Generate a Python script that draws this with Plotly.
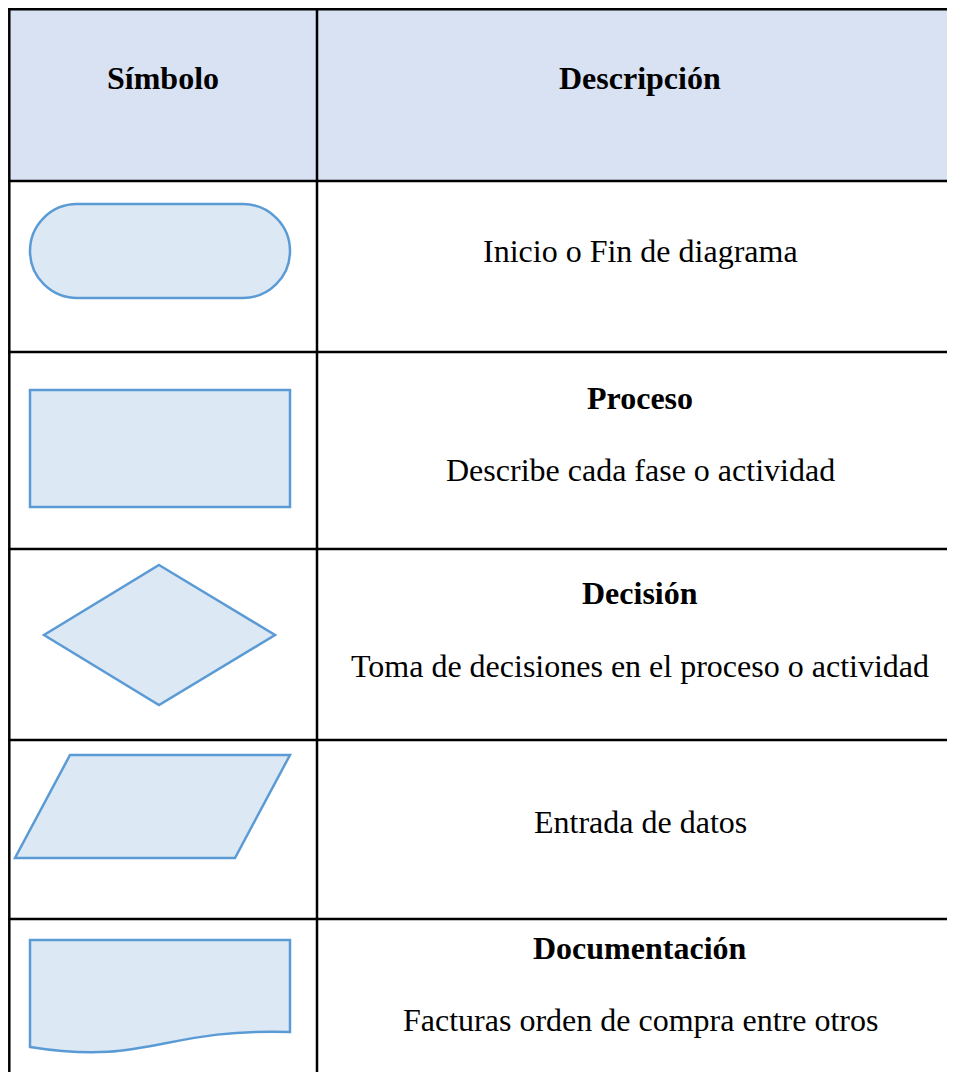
import plotly.graph_objects as go

W, H = 955, 1072
PAGE_MARGIN = 8  # default body margin of the html page

headers = ["Símbolo", "Descripción"]
row_titles = ["", "Proceso", "Decisión", "", "Documentación"]
row_descs = ["Inicio o Fin de diagrama", "Describe cada fase o actividad",
             "Toma de decisiones en el proceso o actividad", "Entrada de datos",
             "Facturas orden de compra entre otros"]

# layout geometry (pixels in the page)
col_x = [9.3, 317, 962]
row_y = [9.3, 181, 352, 549, 740, 919, 1100]

FILL = "#DDE8F5"
STROKE = "#5B9BD5"
HEAD = "#D9E2F3"
FONT = "Liberation Serif"
FS = 32

fig = go.Figure()
shapes = []
annos = []

# header background
shapes.append(dict(type="rect", x0=col_x[0], x1=col_x[2], y0=row_y[0], y1=row_y[1],
                   fillcolor=HEAD, line=dict(width=0), layer="below"))
# grid lines
for y in row_y[:-1]:
    shapes.append(dict(type="line", x0=col_x[0] - 1.2, x1=col_x[2], y0=y, y1=y,
                       line=dict(color="black", width=2.5)))
for x in col_x:
    shapes.append(dict(type="line", x0=x, x1=x, y0=row_y[0] - 1.2, y1=row_y[-1],
                       line=dict(color="black", width=2.5)))

sym = dict(fillcolor=FILL, line=dict(color=STROKE, width=2.5))
# terminator
x0, x1, y0, y1 = 30, 290, 204, 298
r = (y1 - y0) / 2
cy = (y0 + y1) / 2
k = 0.5523 * r
lc, rc = x0 + r, x1 - r
p = (f"M {lc} {y0} L {rc} {y0} C {rc + k} {y0} {x1} {cy - k} {x1} {cy} "
     f"C {x1} {cy + k} {rc + k} {y1} {rc} {y1} L {lc} {y1} "
     f"C {lc - k} {y1} {x0} {cy + k} {x0} {cy} C {x0} {cy - k} {lc - k} {y0} {lc} {y0} Z")
shapes.append(dict(type="path", path=p, **sym))
# process
shapes.append(dict(type="rect", x0=30, x1=290, y0=390, y1=507, **sym))
# decision
shapes.append(dict(type="path", path="M 159 565 L 275 635 L 159 705 L 44 635 Z", **sym))
# data
shapes.append(dict(type="path", path="M 70 755 L 290 755 L 235 858 L 15 858 Z", **sym))
# document
shapes.append(dict(type="path",
                   path="M 30 940 L 290 940 L 290 1032 C 160 1028 150 1066 30 1047 Z", **sym))

cx_left = (col_x[0] + col_x[1]) / 2
cx_right = 640
annos.append(dict(x=cx_left, y=78, text=f"<b>{headers[0]}</b>"))
annos.append(dict(x=cx_right, y=78, text=f"<b>{headers[1]}</b>"))

title_y = [None, 398, 593, None, 948]
desc_y = [251, 470, 666, 822, 1020]
for i in range(5):
    if row_titles[i]:
        annos.append(dict(x=cx_right, y=title_y[i], text=f"<b>{row_titles[i]}</b>"))
    annos.append(dict(x=cx_right, y=desc_y[i], text=row_descs[i]))

for a in annos:
    a.update(xref="x", yref="y", showarrow=False, xanchor="center", yanchor="middle",
             font=dict(family=FONT, size=FS, color="black"))

fig.update_layout(width=W - PAGE_MARGIN, height=H - PAGE_MARGIN,
                  margin=dict(l=0, r=0, t=0, b=0),
                  paper_bgcolor="white", plot_bgcolor="white",
                  shapes=shapes, annotations=annos, showlegend=False,
                  xaxis=dict(range=[PAGE_MARGIN, W], visible=False, fixedrange=True),
                  yaxis=dict(range=[H, PAGE_MARGIN], visible=False, fixedrange=True))
fig.write_html("out.html")
